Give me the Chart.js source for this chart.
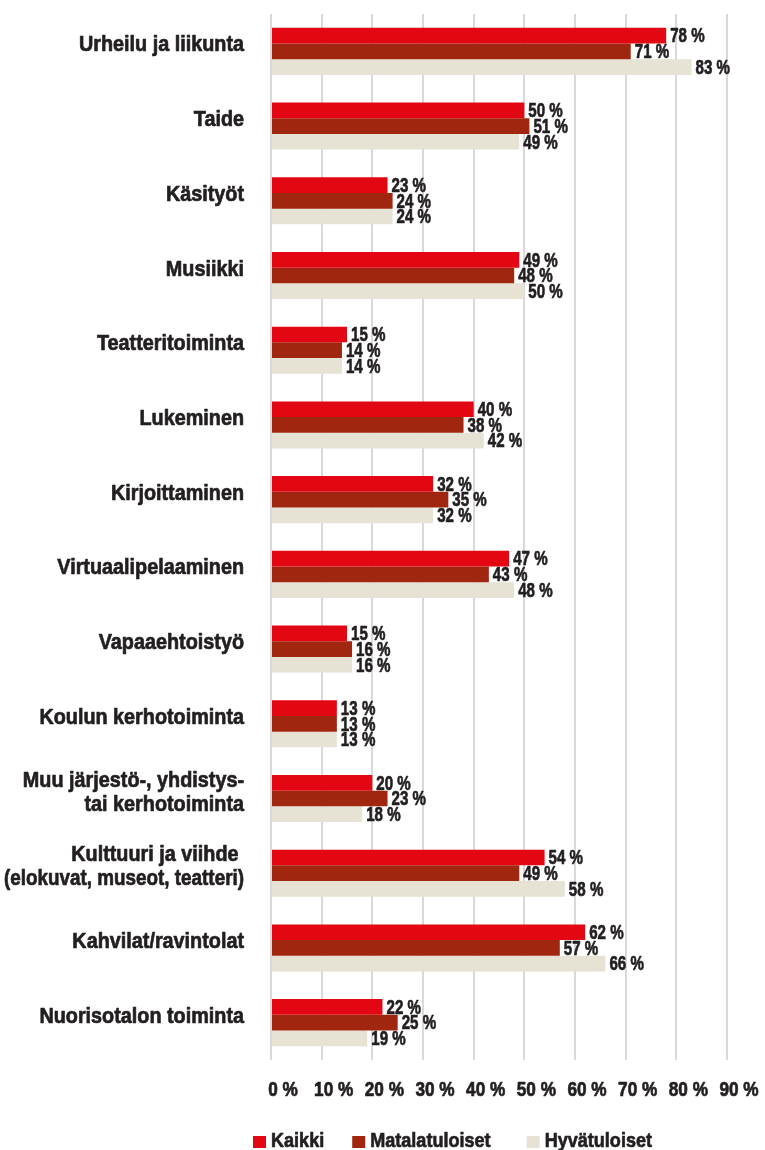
<!DOCTYPE html>
<html>
<head>
<meta charset="utf-8">
<script src="https://cdn.jsdelivr.net/npm/chart.js@4.4.1/dist/chart.umd.min.js"></script>
<style>
  html, body { margin: 0; padding: 0; background: #fff; }
  #wrap { width: 765px; height: 1150px; position: relative; }
</style>
</head>
<body>
<div id="wrap"><canvas id="chart"></canvas></div>
<script>
// categories and series
const categories = [
    'Urheilu ja liikunta',
    'Taide',
    'Käsityöt',
    'Musiikki',
    'Teatteritoiminta',
    'Lukeminen',
    'Kirjoittaminen',
    'Virtuaalipelaaminen',
    'Vapaaehtoistyö',
    'Koulun kerhotoiminta',
    ['Muu järjestö-, yhdistys-', 'tai kerhotoiminta'],
    ['Kulttuuri ja viihde ', '(elokuvat, museot, teatteri)'],
    'Kahvilat/ravintolat',
    'Nuorisotalon toiminta'
];
const kaikki = [78, 50, 23, 49, 15, 40, 32, 47, 15, 13, 20, 54, 62, 22];
const matalatuloiset = [71, 51, 24, 48, 14, 38, 35, 43, 16, 13, 23, 49, 57, 25];
const hyvatuloiset = [83, 49, 24, 50, 14, 42, 32, 48, 16, 13, 18, 58, 66, 19];
const xTicks = [0, 10, 20, 30, 40, 50, 60, 70, 80, 90];
const seriesColors = ['#e30613', '#a0260f', '#e6e3d4'];

const FONT = '"Liberation Sans", Arial, sans-serif';
const TEXT = '#231f20';

// the original uses a heavy condensed face: squeeze horizontally and thicken a bit
function narrowText(ctx, text, x, y, size, sx, align, maxWidth) {
    ctx.save();
    ctx.font = 'bold ' + size + 'px ' + FONT;
    ctx.fillStyle = TEXT;
    ctx.strokeStyle = TEXT;
    ctx.lineWidth = 0.7;
    ctx.lineJoin = 'round';
    ctx.textBaseline = 'middle';
    ctx.textAlign = align;
    ctx.translate(x, y);
    ctx.scale(sx, 1);
    let w = ctx.measureText(text).width;
    const limit = maxWidth ? maxWidth / sx : w;
    ctx.fillText(text, 0, 0, limit);
    ctx.strokeText(text, 0, 0, limit);
    w = Math.min(w, limit) * sx;
    ctx.restore();
    return w;
}

const textLayer = {
    id: 'textLayer',
    afterDraw: function(chart) {
        const ctx = chart.ctx;
        const area = chart.chartArea;
        const xs = chart.scales.x;
        const ys = chart.scales.y;

        // value labels at the bar ends
        chart.data.datasets.forEach((ds, i) => {
            chart.getDatasetMeta(i).data.forEach((bar, j) => {
                narrowText(ctx, ds.data[j] + ' %', bar.x + 4, bar.y + 1, 21, 0.72, 'left');
            });
        });

        // category labels
        categories.forEach((cat, j) => {
            const lines = Array.isArray(cat) ? cat : [cat];
            const cy = ys.getPixelForValue(j) - 6;
            lines.forEach((line, k) => {
                const y = cy + (k - (lines.length - 1) / 2) * 24;
                narrowText(ctx, line, area.left - 27, y, 22, 0.9, 'right', 240);
            });
        });

        // x tick labels
        xTicks.forEach((v) => {
            narrowText(ctx, v + ' %', xs.getPixelForValue(v) + 12, area.bottom + 30, 20, 0.86, 'center');
        });

        // legend
        let lx = 253;
        const ly = 1141;
        const gaps = [28, 36, 0];
        chart.data.datasets.forEach((ds, i) => {
            ctx.fillStyle = seriesColors[i];
            ctx.fillRect(lx, ly - 5, 13, 12);
            lx += 18;
            lx += narrowText(ctx, ds.label, lx, ly, 21, 0.86, 'left');
            lx += gaps[i];
        });
    }
};

new Chart(document.getElementById('chart'), {
    type: 'bar',
    data: {
        labels: categories,
        datasets: [
            { label: 'Kaikki', data: kaikki, backgroundColor: seriesColors[0] },
            { label: 'Matalatuloiset', data: matalatuloiset, backgroundColor: seriesColors[1] },
            { label: 'Hyvätuloiset', data: hyvatuloiset, backgroundColor: seriesColors[2] }
        ]
    },
    options: {
        indexAxis: 'y',
        responsive: true,
        maintainAspectRatio: false,
        animation: false,
        layout: { padding: { top: 14, right: 38, left: 0, bottom: 0 } },
        datasets: {
            bar: { barPercentage: 1, categoryPercentage: 0.63, borderWidth: 0 }
        },
        scales: {
            x: {
                min: 0,
                max: 90,
                afterBuildTicks: (scale) => { scale.ticks = xTicks.map(v => ({ value: v })); },
                afterFit: (scale) => { scale.height = 90; },
                grid: { color: '#d9d9d9', lineWidth: 2, drawTicks: false },
                border: { display: false },
                ticks: { display: false }
            },
            y: {
                afterFit: (scale) => { scale.width = 271; },
                grid: { display: false },
                border: { display: false },
                ticks: { display: false }
            }
        },
        plugins: {
            legend: { display: false },
            tooltip: { enabled: false }
        }
    },
    plugins: [textLayer]
});
</script>
</body>
</html>
